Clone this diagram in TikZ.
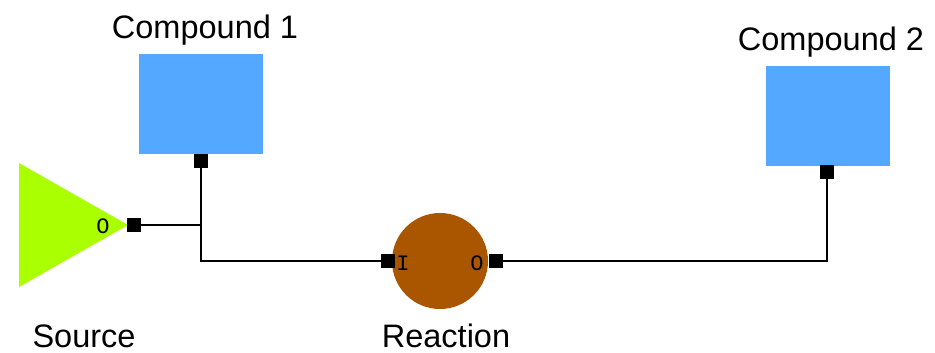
\documentclass[tikz,border=0pt]{standalone}
\usepackage{fontspec}
\setmainfont{Liberation Sans}
\newfontfamily\portfont{Liberation Mono}
\definecolor{srcgreen}{RGB}{170,255,0}
\definecolor{cmpblue}{RGB}{85,168,255}
\definecolor{rxnbrown}{RGB}{170,85,0}
\begin{document}
\begin{tikzpicture}[x=1pt,y=-1pt,
  lbl/.style={font=\fontsize{32.5}{36}\selectfont, inner sep=0pt, anchor=base},
  plbl/.style={font=\portfont\fontsize{22}{24}\selectfont, inner sep=0pt},
  port/.style={fill=black, draw=none, minimum size=14pt, inner sep=0pt},
  cbox/.style={fill=cmpblue, draw=none, minimum width=124pt, minimum height=100pt, inner sep=0pt},
  wire/.style={line width=1.6pt, draw=black}]
\useasboundingbox (0,0) rectangle (935,353);
% compounds
\node[cbox] (c1) at (201,104) {};
\node[cbox] (c2) at (828,116) {};
\node[lbl] (c1l) at (205,39) {Compound 1};
\node[lbl] (c2l) at (831,51) {Compound 2};
% source
\fill[srcgreen] (19,163) -- (19,287) -- (128,225) -- cycle;
\node[plbl] (so) at (103,226) {O};
\node[lbl] (srcl) at (84,347) {Source};
% reaction
\node[circle, fill=rxnbrown, draw=none, minimum size=96pt, inner sep=0pt] (rx) at (440,261) {};
\node[plbl] (ri) at (403,263) {I};
\node[plbl] (ro) at (477,263) {O};
\node[lbl] (rxl) at (446,347) {Reaction};
% wires
\coordinate (j) at (201,225);
\coordinate (src) at (134,225);
\coordinate (rin) at (388,261);
\coordinate (rout) at (496,261);
\coordinate (c1p) at (201,161);
\coordinate (c2p) at (827,172);
\draw[wire] (c1p) |- (rin);
\draw[wire] (src) -- (j);
\draw[wire] (rout) -| (c2p);
% ports
\node[port] (p1) at (c1p) {};
\node[port] (p2) at (c2p) {};
\node[port] (p3) at (src) {};
\node[port] (p4) at (rin) {};
\node[port] (p5) at (rout) {};
\end{tikzpicture}
\end{document}
